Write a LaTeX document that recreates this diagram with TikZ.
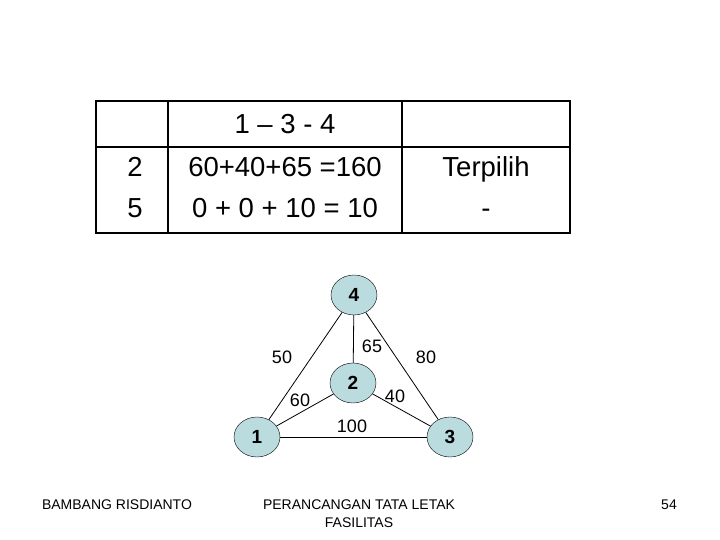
\documentclass[tikz,border=0pt]{standalone}
\usepackage{fontspec}
\setmainfont{Liberation Sans}
\usetikzlibrary{shapes.geometric}
\definecolor{nodefill}{RGB}{186,220,223}

\begin{document}
\begin{tikzpicture}[
    x=1pt, y=-1pt,
    cell/.style={font=\fontsize{27.5}{32}\selectfont, inner sep=0pt, anchor=base},
    vertex/.style={ellipse, draw, fill=nodefill, minimum width=46pt, minimum height=40pt, inner sep=0pt, font=\fontsize{19}{22}\selectfont\bfseries},
    weight/.style={font=\fontsize{18}{22}\selectfont, inner sep=0pt},
    footer/.style={font=\fontsize{14}{18}\selectfont, inner sep=0pt, align=center, anchor=base},
    edge/.style={draw, line width=0.8pt}
]
\useasboundingbox (0,0) rectangle (720,540);

% Table
\draw[line width=1.6pt] (96,101) rectangle (570,233);
\draw[line width=1.4pt] (168,101) -- (168,233);
\draw[line width=1.4pt] (402,101) -- (402,233);
\draw[line width=1.4pt] (96,147) -- (570,147);

\node[cell] (Route) at (285,134) {1 -- 3 - 4};
\node[cell] (Row2) at (135,177) {2};
\node[cell] (Row5) at (135,218) {5};
\node[cell] (Sum2) at (285,177) {60+40+65 =160};
\node[cell] (Sum5) at (285,218) {0 + 0 + 10 = 10};
\node[cell] (Pick2) at (486,177) {Terpilih};
\node[cell] (Pick5) at (486,218) {-};

% Graph
\node[vertex] (N4) at (354,295) {4};
\node[vertex] (N2) at (353,383) {2};
\node[vertex] (N1) at (257,437) {1};
\node[vertex] (N3) at (450,437) {3};

\draw[edge] (N4) -- (N1);
\draw[edge] (N4) -- (N3);
\draw[edge] (N4) -- (N2);
\draw[edge] (N2) -- (N1);
\draw[edge] (N2) -- (N3);
\draw[edge, line width=1pt] (N1) -- (N3);

\node[weight] (W41) at (282,357) {50};
\node[weight] (W42) at (372,346) {65};
\node[weight] (W43) at (426,357) {80};
\node[weight] (W21) at (300,400) {60};
\node[weight] (W23) at (395,396) {40};
\node[weight] (W13) at (352,426) {100};

% Footer
\node[footer] (Author) at (117,509) {BAMBANG RISDIANTO};
\node[footer] (Title) at (359,509) {PERANCANGAN TATA LETAK};
\node[footer] (TitleB) at (359,527) {FASILITAS};
\node[footer] (Page) at (669,509) {54};

\end{tikzpicture}
\end{document}
